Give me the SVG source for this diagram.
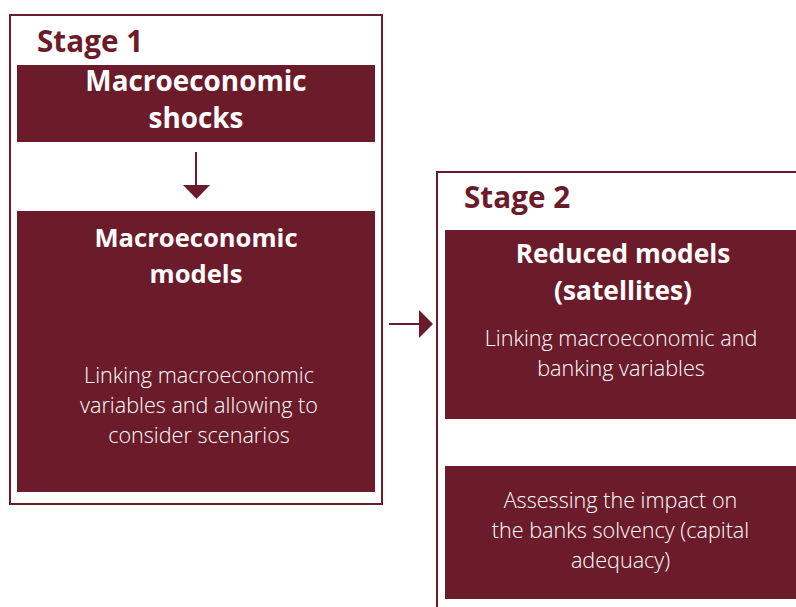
<svg xmlns="http://www.w3.org/2000/svg" width="796" height="607" viewBox="0 0 796 607">
<style>
.frame{fill:#fff;stroke:#6b1b2a;stroke-width:2}
.box{fill:#6b1b2a}
.stage{font-family:"Open Sans","Noto Sans",sans-serif;font-weight:700;font-size:29.7px;fill:#6b1b2a}
.title{font-family:"Open Sans","Noto Sans",sans-serif;font-weight:700;font-size:26px;fill:#fff;text-anchor:middle}
.body{font-family:"Open Sans","Noto Sans",sans-serif;font-weight:300;font-size:21.6px;fill:#fff;text-anchor:middle}
.conn{stroke:#6b1b2a;stroke-width:2;fill:none}
.head{fill:#6b1b2a}
</style>
<rect width="796" height="607" fill="#fff"/>
<g id="stage1">
<rect class="frame" x="10" y="15" width="372" height="489"/>
<text class="stage" x="37" y="52">Stage 1</text>
</g>
<g id="stage2">
<rect class="frame" x="437" y="172" width="380" height="460"/>
<text class="stage" x="464" y="208">Stage 2</text>
</g>
<g id="shocks">
<rect class="box" x="17" y="65" width="358" height="77"/>
<text class="title" x="196" y="91" style="font-size:27.9px">Macroeconomic</text>
<text class="title" x="196" y="128" style="font-size:27.9px">shocks</text>
</g>
<g id="macromodels">
<rect class="box" x="17" y="211" width="358" height="281"/>
<text class="title" x="196" y="247" style="font-size:25.6px">Macroeconomic</text>
<text class="title" x="196" y="283" style="font-size:25.6px">models</text>
<text class="body" x="199" y="383">Linking macroeconomic</text>
<text class="body" x="199" y="413">variables and allowing to</text>
<text class="body" x="199" y="443">consider scenarios</text>
</g>
<g id="reduced">
<rect class="box" x="445" y="230" width="351" height="189"/>
<text class="title" x="623" y="263" style="font-size:26.3px">Reduced models</text>
<text class="title" x="623" y="300" style="font-size:26.3px">(satellites)</text>
<text class="body" x="621" y="346">Linking macroeconomic and</text>
<text class="body" x="621" y="376">banking variables</text>
</g>
<g id="assess">
<rect class="box" x="445" y="466" width="351" height="133"/>
<text class="body" x="620.5" y="508">Assessing the impact on</text>
<text class="body" x="620.5" y="538">the banks solvency (capital</text>
<text class="body" x="620.5" y="568">adequacy)</text>
</g>
<g id="connectors">
<line class="conn" x1="196" y1="152" x2="196" y2="186"/>
<polygon class="head" points="183,185 210,185 196.5,199"/>
<line class="conn" x1="389" y1="324" x2="421" y2="324"/>
<polygon class="head" points="419,310 433,324 419,338"/>
</g>
</svg>
